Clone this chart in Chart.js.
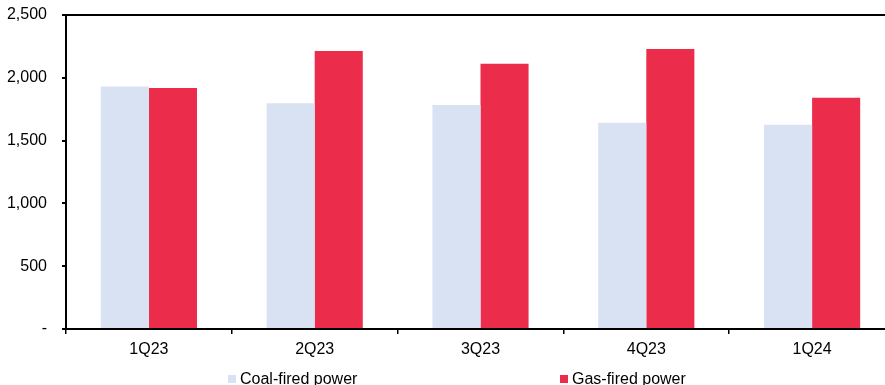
<!DOCTYPE html>
<html>
<head>
<meta charset="utf-8">
<script src="https://cdn.jsdelivr.net/npm/chart.js@4.4.1/dist/chart.umd.min.js"></script>
<style>
  html, body { margin: 0; padding: 0; background: #fff; overflow: hidden; width: 885px; height: 385px; }
  #wrap { position: relative; width: 895px; height: 385px; }
  canvas { display: block; }
  .lg-box { position: absolute; width: 8px; height: 8px; }
  .lg-txt { position: absolute; font: 16px "Liberation Sans", Arial, sans-serif; line-height: 18px; color: #000; white-space: nowrap; }
</style>
</head>
<body>
<div id="wrap">
  <canvas id="chart" width="895" height="385"></canvas>
  <div class="lg-box" style="left:228px;top:375px;background:#D9E2F3"></div>
  <div class="lg-txt" style="left:240px;top:370px">Coal-fired power</div>
  <div class="lg-box" style="left:560px;top:375px;background:#EB2D4B"></div>
  <div class="lg-txt" style="left:572px;top:370px">Gas-fired power</div>
</div>
<script>
// Quarterly power generation, coal vs gas
const quarters = ['1Q23', '2Q23', '3Q23', '4Q23', '1Q24'];
const coalFired = [1930, 1797, 1783, 1643, 1627];
const gasFired = [1919, 2213, 2112, 2229, 1842];
const yTicks = [0, 500, 1000, 1500, 2000, 2500];

const COAL = '#D9E2F3';
const GAS = '#EB2D4B';
const FONT = { family: '"Liberation Sans", Arial, sans-serif', size: 16 };

new Chart(document.getElementById('chart'), {
  type: 'bar',
  data: {
    labels: quarters,
    datasets: [
      { label: 'Coal-fired power', data: coalFired, backgroundColor: COAL, borderWidth: 0,
        categoryPercentage: 0.58, barPercentage: 1.0 },
      { label: 'Gas-fired power', data: gasFired, backgroundColor: GAS, borderWidth: 0,
        categoryPercentage: 0.58, barPercentage: 1.0 }
    ]
  },
  options: {
    responsive: false,
    animation: false,
    layout: { padding: { top: 15, right: 0, bottom: 26, left: 0 } },
    plugins: { legend: { display: false }, tooltip: { enabled: false } },
    scales: {
      x: {
        offset: true,
        grid: { display: true, offset: true, drawOnChartArea: false, tickLength: 5, tickColor: '#000', lineWidth: 1.5 },
        border: { display: true, color: '#000', width: 2 },
        ticks: { color: '#000', font: FONT, padding: 6, maxRotation: 0 },
        afterFit: s => { s.height = 30; s.paddingLeft = 0; s.paddingRight = 0; }
      },
      y: {
        min: yTicks[0],
        max: yTicks[yTicks.length - 1],
        afterBuildTicks: s => { s.ticks = yTicks.map(v => ({ value: v })); },
        grid: {
          drawOnChartArea: true,
          color: c => (c.tick && c.tick.value === 2500) ? '#000' : 'rgba(0,0,0,0)',
          lineWidth: 2,
          tickLength: 4,
          tickColor: '#000',
          tickWidth: 2
        },
        border: { display: true, color: '#000', width: 2 },
        ticks: {
          color: '#000',
          font: FONT,
          padding: 15,
          callback: v => v === 0 ? '-' : v.toLocaleString('en-US')
        },
        afterFit: s => { s.width = 66; s.paddingTop = 0; s.paddingBottom = 0; }
      }
    }
  }
});
</script>
</body>
</html>
